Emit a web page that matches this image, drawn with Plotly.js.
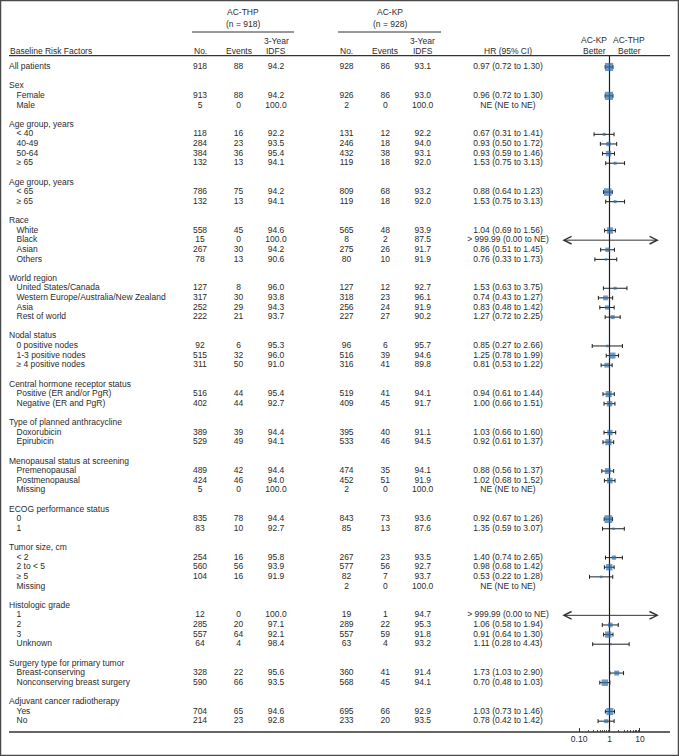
<!DOCTYPE html>
<html><head><meta charset="utf-8">
<script src="https://cdn.plot.ly/plotly-3.0.1.min.js"></script>
<style>html,body{margin:0;padding:0;background:#fff}#chart{width:679px;height:756px}</style>
</head><body><div id="chart"></div>
<script>
// ---------------- DATA ----------------
const armNames = ['AC-THP', 'AC-KP'];
const armTotals = [918, 928];
const betterLabels = ['AC-KP', 'AC-THP'];

// row labels (blank string = spacer line); rowLevel: 0 = heading / top level, 1 = indented subgroup
const labels = [
  'All patients', '',
  'Sex', 'Female', 'Male', '',
  'Age group, years', '< 40', '40-49', '50-64', '≥ 65', '',
  'Age group, years', '< 65', '≥ 65', '',
  'Race', 'White', 'Black', 'Asian', 'Others', '',
  'World region', 'United States/Canada', 'Western Europe/Australia/New Zealand', 'Asia', 'Rest of world', '',
  'Nodal status', '0 positive nodes', '1-3 positive nodes', '≥ 4 positive nodes', '',
  'Central hormone receptor status', 'Positive (ER and/or PgR)', 'Negative (ER and PgR)', '',
  'Type of planned anthracycline', 'Doxorubicin', 'Epirubicin', '',
  'Menopausal status at screening', 'Premenopausal', 'Postmenopausal', 'Missing', '',
  'ECOG performance status', '0', '1', '',
  'Tumor size, cm', '< 2', '2 to < 5', '≥ 5', 'Missing', '',
  'Histologic grade', '1', '2', '3', 'Unknown', '',
  'Surgery type for primary tumor', 'Breast-conserving', 'Nonconserving breast surgery', '',
  'Adjuvant cancer radiotherapy', 'Yes', 'No'
];
const rowLevel = [
  0, null,
  0, 1, 1, null,
  0, 1, 1, 1, 1, null,
  0, 1, 1, null,
  0, 1, 1, 1, 1, null,
  0, 1, 1, 1, 1, null,
  0, 1, 1, 1, null,
  0, 1, 1, null,
  0, 1, 1, null,
  0, 1, 1, 1, null,
  0, 1, 1, null,
  0, 1, 1, 1, 1, null,
  0, 1, 1, 1, 1, null,
  0, 1, 1, null,
  0, 1, 1
];
const _ = null;
const thpNo = [
  918, _,
  _, 913, 5, _,
  _, 118, 284, 384, 132, _,
  _, 786, 132, _,
  _, 558, 15, 267, 78, _,
  _, 127, 317, 252, 222, _,
  _, 92, 515, 311, _,
  _, 516, 402, _,
  _, 389, 529, _,
  _, 489, 424, 5, _,
  _, 835, 83, _,
  _, 254, 560, 104, _, _,
  _, 12, 285, 557, 64, _,
  _, 328, 590, _,
  _, 704, 214
];
const thpEvents = [
  88, _,
  _, 88, 0, _,
  _, 16, 23, 36, 13, _,
  _, 75, 13, _,
  _, 45, 0, 30, 13, _,
  _, 8, 30, 29, 21, _,
  _, 6, 32, 50, _,
  _, 44, 44, _,
  _, 39, 49, _,
  _, 42, 46, 0, _,
  _, 78, 10, _,
  _, 16, 56, 16, _, _,
  _, 0, 20, 64, 4, _,
  _, 22, 66, _,
  _, 65, 23
];
const thpIdfs = [
  94.2, _,
  _, 94.2, 100.0, _,
  _, 92.2, 93.5, 95.4, 94.1, _,
  _, 94.2, 94.1, _,
  _, 94.6, 100.0, 94.2, 90.6, _,
  _, 96.0, 93.8, 94.3, 93.7, _,
  _, 95.3, 96.0, 91.0, _,
  _, 95.4, 92.7, _,
  _, 94.4, 94.1, _,
  _, 94.4, 94.0, 100.0, _,
  _, 94.4, 92.7, _,
  _, 95.8, 93.9, 91.9, _, _,
  _, 100.0, 97.1, 92.1, 98.4, _,
  _, 95.6, 93.5, _,
  _, 94.6, 92.8
];
const kpNo = [
  928, _,
  _, 926, 2, _,
  _, 131, 246, 432, 119, _,
  _, 809, 119, _,
  _, 565, 8, 275, 80, _,
  _, 127, 318, 256, 227, _,
  _, 96, 516, 316, _,
  _, 519, 409, _,
  _, 395, 533, _,
  _, 474, 452, 2, _,
  _, 843, 85, _,
  _, 267, 577, 82, 2, _,
  _, 19, 289, 557, 63, _,
  _, 360, 568, _,
  _, 695, 233
];
const kpEvents = [
  86, _,
  _, 86, 0, _,
  _, 12, 18, 38, 18, _,
  _, 68, 18, _,
  _, 48, 2, 26, 10, _,
  _, 12, 23, 24, 27, _,
  _, 6, 39, 41, _,
  _, 41, 45, _,
  _, 40, 46, _,
  _, 35, 51, 0, _,
  _, 73, 13, _,
  _, 23, 56, 7, 0, _,
  _, 1, 22, 59, 4, _,
  _, 41, 45, _,
  _, 66, 20
];
const kpIdfs = [
  93.1, _,
  _, 93.0, 100.0, _,
  _, 92.2, 94.0, 93.1, 92.0, _,
  _, 93.2, 92.0, _,
  _, 93.9, 87.5, 91.7, 91.9, _,
  _, 92.7, 96.1, 91.9, 90.2, _,
  _, 95.7, 94.6, 89.8, _,
  _, 94.1, 91.7, _,
  _, 91.1, 94.5, _,
  _, 94.1, 91.9, 100.0, _,
  _, 93.6, 87.6, _,
  _, 93.5, 92.7, 93.7, 100.0, _,
  _, 94.7, 95.3, 91.8, 93.2, _,
  _, 91.4, 94.1, _,
  _, 92.9, 93.5
];
const hrText = [
  '0.97 (0.72 to 1.30)', _,
  _, '0.96 (0.72 to 1.30)', 'NE (NE to NE)', _,
  _, '0.67 (0.31 to 1.41)', '0.93 (0.50 to 1.72)', '0.93 (0.59 to 1.46)', '1.53 (0.75 to 3.13)', _,
  _, '0.88 (0.64 to 1.23)', '1.53 (0.75 to 3.13)', _,
  _, '1.04 (0.69 to 1.56)', '> 999.99 (0.00 to NE)', '0.86 (0.51 to 1.45)', '0.76 (0.33 to 1.73)', _,
  _, '1.53 (0.63 to 3.75)', '0.74 (0.43 to 1.27)', '0.83 (0.48 to 1.42)', '1.27 (0.72 to 2.25)', _,
  _, '0.85 (0.27 to 2.66)', '1.25 (0.78 to 1.99)', '0.81 (0.53 to 1.22)', _,
  _, '0.94 (0.61 to 1.44)', '1.00 (0.66 to 1.51)', _,
  _, '1.03 (0.66 to 1.60)', '0.92 (0.61 to 1.37)', _,
  _, '0.88 (0.56 to 1.37)', '1.02 (0.68 to 1.52)', 'NE (NE to NE)', _,
  _, '0.92 (0.67 to 1.26)', '1.35 (0.59 to 3.07)', _,
  _, '1.40 (0.74 to 2.65)', '0.98 (0.68 to 1.42)', '0.53 (0.22 to 1.28)', 'NE (NE to NE)', _,
  _, '> 999.99 (0.00 to NE)', '1.06 (0.58 to 1.94)', '0.91 (0.64 to 1.30)', '1.11 (0.28 to 4.43)', _,
  _, '1.73 (1.03 to 2.90)', '0.70 (0.48 to 1.03)', _,
  _, '1.03 (0.73 to 1.46)', '0.78 (0.42 to 1.42)'
];
// numeric HR and 95% CI for plotting (null = not estimable / unbounded)
const hr = [
  0.97, _,
  _, 0.96, _, _,
  _, 0.67, 0.93, 0.93, 1.53, _,
  _, 0.88, 1.53, _,
  _, 1.04, _, 0.86, 0.76, _,
  _, 1.53, 0.74, 0.83, 1.27, _,
  _, 0.85, 1.25, 0.81, _,
  _, 0.94, 1.00, _,
  _, 1.03, 0.92, _,
  _, 0.88, 1.02, _, _,
  _, 0.92, 1.35, _,
  _, 1.40, 0.98, 0.53, _, _,
  _, _, 1.06, 0.91, 1.11, _,
  _, 1.73, 0.70, _,
  _, 1.03, 0.78
];
const ciLow = [
  0.72, _,
  _, 0.72, _, _,
  _, 0.31, 0.50, 0.59, 0.75, _,
  _, 0.64, 0.75, _,
  _, 0.69, 0.00, 0.51, 0.33, _,
  _, 0.63, 0.43, 0.48, 0.72, _,
  _, 0.27, 0.78, 0.53, _,
  _, 0.61, 0.66, _,
  _, 0.66, 0.61, _,
  _, 0.56, 0.68, _, _,
  _, 0.67, 0.59, _,
  _, 0.74, 0.68, 0.22, _, _,
  _, 0.00, 0.58, 0.64, 0.28, _,
  _, 1.03, 0.48, _,
  _, 0.73, 0.42
];
const ciHigh = [
  1.30, _,
  _, 1.30, _, _,
  _, 1.41, 1.72, 1.46, 3.13, _,
  _, 1.23, 3.13, _,
  _, 1.56, _, 1.45, 1.73, _,
  _, 3.75, 1.27, 1.42, 2.25, _,
  _, 2.66, 1.99, 1.22, _,
  _, 1.44, 1.51, _,
  _, 1.60, 1.37, _,
  _, 1.37, 1.52, _, _,
  _, 1.26, 3.07, _,
  _, 2.65, 1.42, 1.28, _, _,
  _, _, 1.94, 1.30, 4.43, _,
  _, 2.90, 1.03, _,
  _, 1.46, 1.42
];
const axisTickVals = [0.1, 1, 10];
const axisTickText = ['0.10', '1', '10'];
const axisMinorVals = [0.2, 0.3, 0.4, 0.5, 0.6, 0.7, 0.8, 0.9, 2, 3, 4, 5, 6, 7, 8, 9];

// ---------------- LAYOUT / STYLE ----------------
const W = 679, H = 756;
const FONT = 'Liberation Sans, Arial, Helvetica, sans-serif';
const TXT = '#2b2b2b';
const FS = 8.5;
const ROW0 = 67, PITCH = 9.62;
const rowY = i => ROW0 + PITCH * i;
const RULE_TOP = 55.7, RULE_BOT = 732, RULE_L = 9, RULE_R = 670;
const FX0 = 550, FX1 = 670, ONE_PX = 609.5, DECADE = 30.4;   // forest panel geometry
const ARROW_LO = 0.025, ARROW_HI = 42;                           // extent of unbounded CI arrows
const COL = { lab0: 9, lab1: 16.5, thpNo: 200, thpEv: 238.5, thpIdfs: 276, kpNo: 346.5, kpEv: 385.3, kpIdfs: 422.7, hr: 508 };
const ARM_CENTER = [243, 389.5], ARM_LINE = [[192, 294], [338, 441]];
const BETTER_X = [594, 629];
const BLUE = '#2f6ead';

const n = labels.length;
const idx = [...Array(n).keys()];

function textTrace(vals, x, pos, fmt) {
  const ids = idx.filter(i => vals[i] !== null && vals[i] !== undefined && vals[i] !== '');
  return {
    type: 'scatter', mode: 'text', xaxis: 'x', yaxis: 'y',
    x: ids.map(() => x), y: ids.map(rowY),
    text: ids.map(i => fmt ? fmt(vals[i]) : String(vals[i])),
    textposition: pos, cliponaxis: false, hoverinfo: 'skip', showlegend: false,
    textfont: { family: FONT, size: FS, color: TXT }
  };
}
const lab0 = labels.map((l, i) => rowLevel[i] === 0 ? l : null);
const lab1 = labels.map((l, i) => rowLevel[i] === 1 ? l : null);
const f1 = v => v.toFixed(1);

const traces = [
  textTrace(lab0, COL.lab0, 'middle right'),
  textTrace(lab1, COL.lab1, 'middle right'),
  textTrace(thpNo, COL.thpNo, 'middle center'),
  textTrace(thpEvents, COL.thpEv, 'middle center'),
  textTrace(thpIdfs, COL.thpIdfs, 'middle center', f1),
  textTrace(kpNo, COL.kpNo, 'middle center'),
  textTrace(kpEvents, COL.kpEv, 'middle center'),
  textTrace(kpIdfs, COL.kpIdfs, 'middle center', f1),
  textTrace(hrText, COL.hr, 'middle center')
];

// reference line at HR = 1
traces.push({
  type: 'scatter', mode: 'lines', xaxis: 'x2', yaxis: 'y',
  x: [1, 1], y: [RULE_TOP, RULE_BOT], line: { color: '#1e1e1e', width: 1.2 },
  hoverinfo: 'skip', showlegend: false
});

// point estimates with CIs
const pts = idx.filter(i => hr[i] !== null);
traces.push({
  type: 'scatter', mode: 'markers', xaxis: 'x2', yaxis: 'y',
  x: pts.map(i => hr[i]), y: pts.map(rowY),
  marker: { symbol: 'square', color: BLUE, size: pts.map(i => 0.19 * Math.sqrt(thpNo[i] + kpNo[i])), line: { width: 0 } },
  error_x: { type: 'data', symmetric: false,
    array: pts.map(i => ciHigh[i] - hr[i]), arrayminus: pts.map(i => hr[i] - ciLow[i]),
    color: '#1e1e1e', thickness: 1, width: 2 },
  hoverinfo: 'skip', showlegend: false
});

const ann = [];
function note(text, x, y, anchor) {
  ann.push({ text, x, y, xref: 'x', yref: 'y', showarrow: false, xanchor: anchor || 'center', yanchor: 'middle',
    font: { family: FONT, size: FS, color: TXT }, borderpad: 0 });
}
armNames.forEach((a, k) => {
  note(a, ARM_CENTER[k], 12);
  note('(n = ' + armTotals[k] + ')', ARM_CENTER[k], 23.5);
});
note('Baseline Risk Factors', RULE_L, 50.5, 'left');
[[COL.thpNo, COL.thpEv, COL.thpIdfs], [COL.kpNo, COL.kpEv, COL.kpIdfs]].forEach(c => {
  note('No.', c[0], 50.5); note('Events', c[1], 50.5);
  note('3-Year', c[2], 41); note('IDFS', c[2], 50.5);
});
note('HR (95% CI)', COL.hr, 50.5);
betterLabels.forEach((b, k) => { note(b, BETTER_X[k], 40); note('Better', BETTER_X[k], 50.5); });

// unbounded CI arrows (HR > 999.99, CI 0.00 to NE)
idx.filter(i => hr[i] === null && ciLow[i] !== null).forEach(i => {
  ann.push({ xref: 'x2', yref: 'y', axref: 'x2', ayref: 'y',
    x: Math.log10(ARROW_HI), y: rowY(i), ax: Math.log10(ARROW_LO), ay: rowY(i),
    text: '', showarrow: true, arrowside: 'end+start', arrowhead: 5, startarrowhead: 5,
    arrowsize: 1.5, startarrowsize: 1.5, arrowwidth: 1, arrowcolor: '#333', standoff: 0, startstandoff: 0 });
});

const shapes = [
  { type: 'line', xref: 'x', yref: 'y', x0: ARM_LINE[0][0], x1: ARM_LINE[0][1], y0: 32, y1: 32, line: { color: '#333', width: 1 } },
  { type: 'line', xref: 'x', yref: 'y', x0: ARM_LINE[1][0], x1: ARM_LINE[1][1], y0: 32, y1: 32, line: { color: '#333', width: 1 } },
  { type: 'line', xref: 'x', yref: 'y', x0: RULE_L, x1: RULE_R, y0: RULE_TOP, y1: RULE_TOP, line: { color: '#333', width: 1.2 } },
  { type: 'line', xref: 'x', yref: 'y', x0: RULE_L, x1: RULE_R, y0: RULE_BOT, y1: RULE_BOT, line: { color: '#333', width: 1.3 } },
  { type: 'rect', xref: 'paper', yref: 'paper', x0: 0, x1: 1, y0: 0, y1: 1, line: { color: '#4a4a4a', width: 2.5 } }
];

const layout = {
  width: W, height: H, autosize: false,
  margin: { l: 0, r: 0, t: 0, b: 0, pad: 0 },
  paper_bgcolor: '#fff', plot_bgcolor: 'rgba(0,0,0,0)',
  showlegend: false, hovermode: false,
  font: { family: FONT, size: FS, color: TXT },
  xaxis: { domain: [0, 1], range: [0, W], visible: false, fixedrange: true },
  yaxis: { domain: [0, 1], range: [H, 0], visible: false, fixedrange: true },
  xaxis2: {
    type: 'log', domain: [FX0 / W, FX1 / W],
    range: [(FX0 - ONE_PX) / DECADE, (FX1 - ONE_PX) / DECADE],
    anchor: 'free', position: 1 - RULE_BOT / H,
    showline: false, showgrid: false, zeroline: false,
    ticks: 'inside', ticklen: 4, tickwidth: 1, tickcolor: '#333',
    tickmode: 'array', tickvals: axisTickVals, ticktext: axisTickText,
    tickfont: { family: FONT, size: FS, color: TXT },
    minor: { tickmode: 'array', tickvals: axisMinorVals, ticks: 'inside', ticklen: 2.5, tickwidth: 1, tickcolor: '#555', showgrid: false },
    fixedrange: true
  },
  annotations: ann, shapes: shapes
};

Plotly.newPlot('chart', traces, layout, { staticPlot: true, displayModeBar: false });
</script></body></html>
